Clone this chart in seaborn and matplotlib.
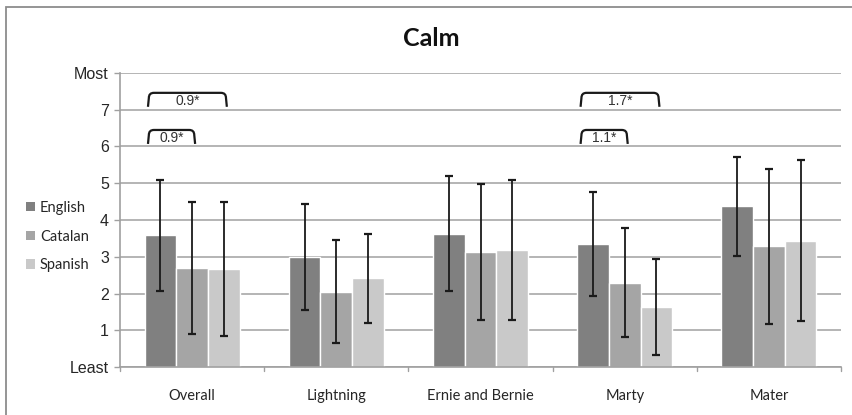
import matplotlib
matplotlib.use("Agg")
import matplotlib.pyplot as plt
from matplotlib.path import Path
from matplotlib.patches import PathPatch, Rectangle, Patch
import numpy as np
import pandas as pd
import seaborn as sns

# Mean calmness ratings (0 = Least, 8 = Most) per character and language group
categories = ["Overall", "Lightning", "Ernie and Bernie", "Marty", "Mater"]
languages = ["English", "Catalan", "Spanish"]
english_mean = [3.58, 3.00, 3.63, 3.35, 4.37]
catalan_mean = [2.70, 2.05, 3.13, 2.29, 3.28]
spanish_mean = [2.67, 2.42, 3.19, 1.64, 3.44]
english_sd = [1.52, 1.44, 1.57, 1.41, 1.35]
catalan_sd = [1.79, 1.41, 1.84, 1.48, 2.10]
spanish_sd = [1.82, 1.21, 1.90, 1.31, 2.19]
ytick_labels = ["Least", "1", "2", "3", "4", "5", "6", "7", "Most"]

# Significant pairwise differences: (category, compared language, level, label)
sig_category = ["Overall", "Overall", "Marty", "Marty"]
sig_against = ["Spanish", "Catalan", "Spanish", "Catalan"]
sig_level = [7.46, 6.45, 7.46, 6.45]
sig_label = ["0.9*", "0.9*", "1.7*", "1.1*"]

colors = {"English": "#808080", "Catalan": "#a5a5a5", "Spanish": "#c9c9c9"}

df = pd.DataFrame({
    "category": np.repeat(categories, 3),
    "language": languages * len(categories),
    "mean": [v for trio in zip(english_mean, catalan_mean, spanish_mean) for v in trio],
    "sd": [v for trio in zip(english_sd, catalan_sd, spanish_sd) for v in trio],
})

sns.set_style("white")
plt.rcParams["font.family"] = ["Lato", "DejaVu Sans"]

fig = plt.figure(figsize=(8.52, 4.15), dpi=100)
ax = fig.add_axes([120 / 852, 48 / 415, 721 / 852, 294 / 415])

sns.barplot(data=df, x="category", y="mean", hue="language", order=categories,
            hue_order=languages, palette=colors, width=0.66, gap=0,
            saturation=1, errorbar=None, legend=False, ax=ax, zorder=2)

# Error bars at each bar centre
for lang, container in zip(languages, ax.containers):
    sub = df[df.language == lang].set_index("category").loc[categories]
    xs = [p.get_x() + p.get_width() / 2 for p in container.patches]
    ax.errorbar(xs, sub["mean"], yerr=sub["sd"], fmt="none", ecolor="#1a1a1a",
                elinewidth=1.3, capsize=3, capthick=1.6, zorder=3)

ax.set_ylim(0, 8)
ax.set_xlim(-0.5, len(categories) - 0.5)
ax.set_yticks(range(9))
ax.set_yticklabels(ytick_labels, family=["Liberation Sans"], fontsize=11.5,
                   color="#262626")
ax.yaxis.grid(True, color="#a8a8a8", linewidth=1.2, zorder=0)
ax.set_axisbelow(True)
ax.set_xlabel("")
ax.set_ylabel("")
ax.tick_params(axis="x", length=0, pad=16, labelsize=10.5, labelcolor="#262626")
ax.tick_params(axis="y", length=4, color="#a0a0a0", width=1, pad=4, left=True)
for side in ["top", "right"]:
    ax.spines[side].set_visible(False)
for side in ["left", "bottom"]:
    ax.spines[side].set_color("#a0a0a0")
    ax.spines[side].set_linewidth(1.2)
# Category separator ticks below the axis
for b in np.arange(-0.5, len(categories), 1.0):
    ax.plot([b, b], [0, -0.12], color="#a0a0a0", lw=1, clip_on=False)

# Significance brackets
bar_w = 0.66 / 3
offset = {lang: (i - 1) * bar_w for i, lang in enumerate(languages)}
for cat, other, level, lab in zip(sig_category, sig_against, sig_level, sig_label):
    c = categories.index(cat)
    x0 = c + offset["English"] - 0.08
    x1 = c + offset[other] + 0.015
    dx, dy, drop = 0.035, 0.14, 0.38
    verts = [(x0 - 0.006, level - drop), (x0, level - dy), (x0, level), (x0 + dx, level),
             (x1 - dx, level), (x1, level), (x1, level - dy), (x1 + 0.006, level - drop)]
    codes = [Path.MOVETO, Path.LINETO, Path.CURVE3, Path.CURVE3,
             Path.LINETO, Path.CURVE3, Path.CURVE3, Path.LINETO]
    ax.add_patch(PathPatch(Path(verts, codes), fill=False, lw=1.6,
                           edgecolor="#1a1a1a", zorder=4))
    ax.text((x0 + x1) / 2, level - 0.22, lab, ha="center", va="center",
            fontsize=10, family=["Liberation Sans"], color="#333333", zorder=5)

fig.text(431 / 852, 1 - 38 / 415, "Calm", ha="center", va="center", fontsize=18,
         fontweight="bold", color="#111111")

handles = [Patch(facecolor=colors[l], edgecolor="none") for l in languages]
fig.legend(handles, languages, loc="center left", bbox_to_anchor=(0.015, 0.43),
           frameon=False, fontsize=10.5, handlelength=0.6, handleheight=0.6,
           handletextpad=0.35, labelspacing=1.0)

# Outer chart frame (left and top edges fall inside the image)
fig.patches.append(Rectangle((6 / 852, -0.1), 1.2, (415 - 7) / 415 + 0.1,
                             transform=fig.transFigure, fill=False,
                             edgecolor="#8c8c8c", lw=1.3))

fig.savefig("out.png", dpi=100, facecolor="white")
